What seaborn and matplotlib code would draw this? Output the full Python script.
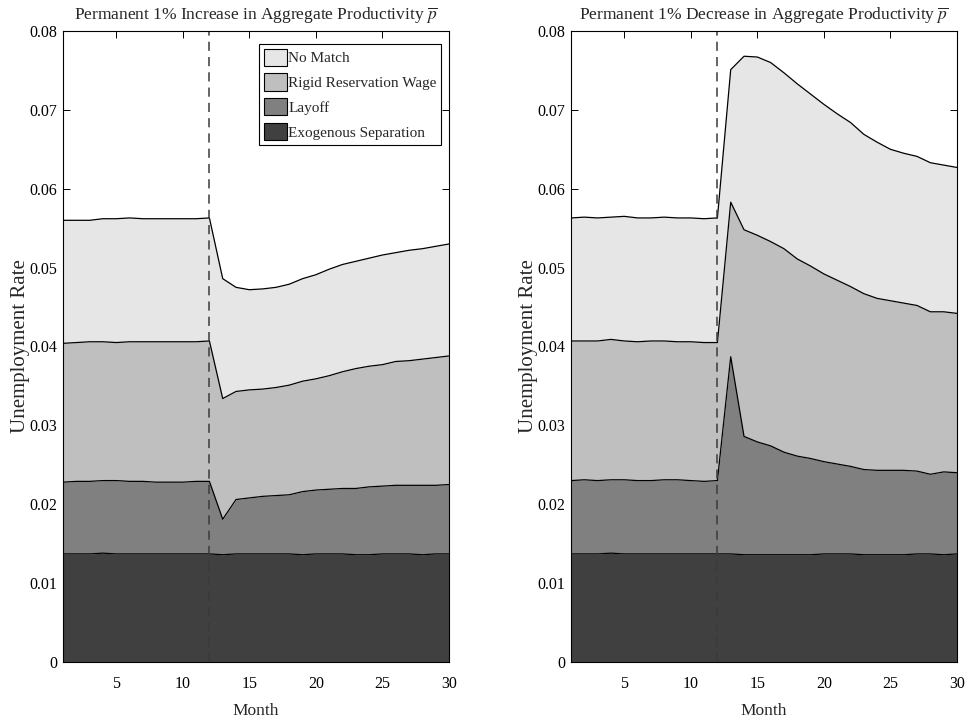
import numpy as np
import pandas as pd
import matplotlib
matplotlib.use("Agg")
import matplotlib.pyplot as plt
import seaborn as sns
from matplotlib.patches import Patch

# ---------------- data ----------------
months = list(range(1, 31))
shock_month = 12

series_names = ["Exogenous Separation", "Layoff", "Rigid Reservation Wage", "No Match"]
series_colors = ["#404040", "#808080", "#bfbfbf", "#e6e6e6"]
legend_order = ["No Match", "Rigid Reservation Wage", "Layoff", "Exogenous Separation"]

titles = [r"Permanent 1% Increase in Aggregate Productivity $\overline{p}$",
          r"Permanent 1% Decrease in Aggregate Productivity $\overline{p}$"]

x_ticks = [5, 10, 15, 20, 25, 30]
y_ticks = [0, 0.01, 0.02, 0.03, 0.04, 0.05, 0.06, 0.07, 0.08]
y_tick_labels = ["0", "0.01", "0.02", "0.03", "0.04", "0.05", "0.06", "0.07", "0.08"]

# Increase panel: contribution of each component (stacked bands)
inc_exogenous = [0.0137, 0.0137, 0.0137, 0.0138, 0.0137, 0.0137, 0.0137, 0.0137, 0.0137, 0.0137,
                 0.0137, 0.0137, 0.0136, 0.0137, 0.0137, 0.0137, 0.0137, 0.0137, 0.0136, 0.0137,
                 0.0137, 0.0137, 0.0136, 0.0136, 0.0137, 0.0137, 0.0137, 0.0136, 0.0137, 0.0137]
inc_layoff = [0.0091, 0.0092, 0.0092, 0.0092, 0.0093, 0.0092, 0.0092, 0.0091, 0.0091, 0.0091,
              0.0092, 0.0092, 0.0045, 0.0069, 0.0071, 0.0073, 0.0074, 0.0075, 0.0080, 0.0081,
              0.0082, 0.0083, 0.0084, 0.0086, 0.0086, 0.0087, 0.0087, 0.0088, 0.0087, 0.0088]
inc_rigid = [0.0176, 0.0176, 0.0177, 0.0176, 0.0175, 0.0177, 0.0177, 0.0178, 0.0178, 0.0178,
             0.0177, 0.0178, 0.0153, 0.0137, 0.0137, 0.0136, 0.0137, 0.0139, 0.0140, 0.0141,
             0.0144, 0.0148, 0.0152, 0.0153, 0.0154, 0.0157, 0.0158, 0.0160, 0.0162, 0.0163]
inc_nomatch = [0.0156, 0.0155, 0.0154, 0.0156, 0.0157, 0.0157, 0.0156, 0.0156, 0.0156, 0.0156,
               0.0156, 0.0156, 0.0152, 0.0132, 0.0127, 0.0127, 0.0127, 0.0128, 0.0130, 0.0132,
               0.0135, 0.0136, 0.0136, 0.0137, 0.0139, 0.0138, 0.0140, 0.0140, 0.0141, 0.0142]

# Decrease panel
dec_exogenous = [0.0137, 0.0137, 0.0137, 0.0138, 0.0137, 0.0137, 0.0137, 0.0137, 0.0137, 0.0137,
                 0.0137, 0.0137, 0.0137, 0.0136, 0.0136, 0.0136, 0.0136, 0.0136, 0.0136, 0.0137,
                 0.0137, 0.0137, 0.0136, 0.0136, 0.0136, 0.0136, 0.0137, 0.0137, 0.0136, 0.0137]
dec_layoff = [0.0093, 0.0094, 0.0093, 0.0093, 0.0094, 0.0093, 0.0093, 0.0094, 0.0094, 0.0093,
              0.0092, 0.0093, 0.0250, 0.0150, 0.0143, 0.0138, 0.0130, 0.0125, 0.0122, 0.0117,
              0.0114, 0.0111, 0.0108, 0.0107, 0.0107, 0.0107, 0.0105, 0.0101, 0.0105, 0.0103]
dec_rigid = [0.0177, 0.0176, 0.0177, 0.0178, 0.0176, 0.0176, 0.0177, 0.0176, 0.0175, 0.0176,
             0.0176, 0.0175, 0.0196, 0.0262, 0.0262, 0.0259, 0.0258, 0.0250, 0.0244, 0.0238,
             0.0233, 0.0228, 0.0223, 0.0218, 0.0215, 0.0212, 0.0210, 0.0206, 0.0203, 0.0202]
dec_nomatch = [0.0156, 0.0157, 0.0156, 0.0155, 0.0158, 0.0157, 0.0156, 0.0157, 0.0157, 0.0157,
               0.0157, 0.0158, 0.0168, 0.0220, 0.0226, 0.0227, 0.0223, 0.0222, 0.0218, 0.0215,
               0.0211, 0.0208, 0.0202, 0.0198, 0.0192, 0.0190, 0.0189, 0.0189, 0.0186, 0.0185]

panels = [
    [inc_exogenous, inc_layoff, inc_rigid, inc_nomatch],
    [dec_exogenous, dec_layoff, dec_rigid, dec_nomatch],
]

# ---------------- style ----------------
sns.set_theme(style="ticks")
plt.rcParams["font.family"] = ["Liberation Serif", "DejaVu Serif"]
plt.rcParams["mathtext.fontset"] = "stix"
plt.rcParams["axes.edgecolor"] = "black"
plt.rcParams["axes.linewidth"] = 0.8

fig = plt.figure(figsize=(9.71, 7.27), dpi=100)
W, H = 971, 727
ax_boxes = [
    [63 / W, 65 / H, 386 / W, 631 / H],
    [571 / W, 65 / H, 386 / W, 631 / H],
]

for i, (bands, box) in enumerate(zip(panels, ax_boxes)):
    ax = fig.add_axes(box)
    x = np.array(months)
    lower = np.zeros(len(months))
    for name, vals, col in zip(series_names, bands, series_colors):
        upper = lower + np.array(vals)
        ax.fill_between(x, lower, upper, color=col, linewidth=0, zorder=1)
        df = pd.DataFrame({"Month": months, "value": upper})
        sns.lineplot(data=df, x="Month", y="value", ax=ax, color="black",
                     linewidth=0.9, legend=False, zorder=2)
        lower = upper

    ax.axvline(shock_month, color="#3a3a3a", linestyle=(0, (6, 4)), linewidth=1.1, zorder=3)

    ax.set_xlim(1, 30)
    ax.set_ylim(0, 0.08)
    ax.set_xticks(x_ticks)
    ax.set_xticklabels([str(t) for t in x_ticks])
    ax.set_yticks(y_ticks)
    ax.set_yticklabels(y_tick_labels)
    ax.tick_params(direction="in", length=5, width=0.7, top=True, right=True,
                   labelsize=11.5, colors="black", pad=4)
    ax.tick_params(axis="x", pad=10)
    for s in ax.spines.values():
        s.set_visible(True)
        s.set_color("black")
        s.set_linewidth(0.8)
        s.set_zorder(4)
    ax.set_xlabel("Month", fontsize=12.5, labelpad=8)
    ax.set_ylabel("Unemployment Rate", fontsize=15, labelpad=0)
    ax.set_title(titles[i], fontsize=12.5, pad=8)

    if i == 0:
        handles = [Patch(facecolor=series_colors[series_names.index(n)], edgecolor="black",
                         linewidth=0.8, label=n) for n in legend_order]
        leg = ax.legend(handles=handles, loc="upper right",
                        bbox_to_anchor=((441 - 63) / 386, 1 - 13 / 631),
                        fontsize=11, frameon=True, fancybox=False, edgecolor="black",
                        framealpha=1, borderaxespad=0, handlelength=1.5,
                        handleheight=1.35, handletextpad=0.1, labelspacing=0.5,
                        borderpad=0.3)
        leg.get_frame().set_linewidth(0.8)

fig.savefig("out.png", dpi=100)
